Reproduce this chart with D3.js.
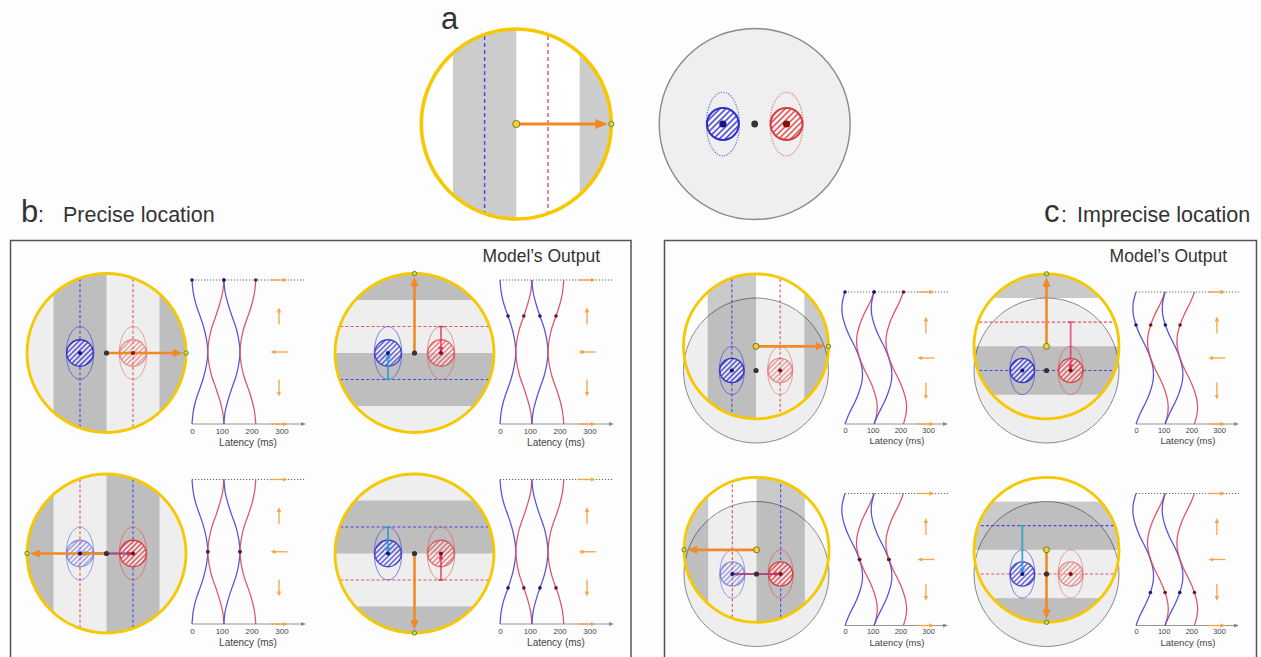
<!DOCTYPE html>
<html>
<head>
<meta charset="utf-8">
<script src="https://cdn.jsdelivr.net/npm/d3@7"></script>
<style>
  html, body { margin: 0; padding: 0; background: #fdfdfd; }
  svg { display: block; font-family: "Liberation Sans", Arial, sans-serif; }
</style>
</head>
<body>
<script>
// ---------------------------------------------------------------------------
// Data
// ---------------------------------------------------------------------------
// Motion direction (deg) sampled down the vertical axis of every latency plot
const directions = [0, 30, 60, 90, 120, 150, 180, 210, 240, 270, 300, 330, 360];
const latencyTicks = [0, 100, 200, 300];
// Motion direction glyphs drawn beside each latency plot
const arrowDirections = [0, 90, 180, 270, 360];
// Sub-panels in order: top-left, top-right, bottom-left, bottom-right
const panelMotion = [0, 90, 180, 270];
const panelMarked = [0, 90, 180, 270];

// Precise location: latency (ms) of successive bar edges for each neuron
const preciseBlue1 = [0, 4, 13, 27, 40, 49, 53, 49, 40, 27, 13, 4, 0];
const preciseRed1  = [107, 103, 93, 80, 66, 57, 53, 57, 66, 80, 93, 103, 107];
const preciseBlue2 = [107, 111, 121, 134, 148, 157, 161, 157, 148, 134, 121, 111, 107];
const preciseRed2  = [214, 210, 201, 188, 174, 165, 161, 165, 174, 188, 201, 210, 214];

// Imprecise location: latency (ms) of successive bar edges for each neuron
const impreciseBlue1 = [0, -10, -10, 0, 16, 36, 52, 62, 62, 52, 36, 16, 0];
const impreciseRed1  = [105, 89, 69, 53, 43, 43, 53, 69, 89, 105, 115, 115, 105];
const impreciseBlue2 = [105, 96, 96, 106, 122, 142, 158, 168, 168, 158, 142, 122, 105];
const impreciseRed2  = [211, 195, 175, 159, 149, 149, 159, 175, 195, 211, 221, 221, 211];

// ---------------------------------------------------------------------------
// Styling
// ---------------------------------------------------------------------------
const YELLOW = "#f5c800";
const ORANGE = "#f18a26";
const ORANGE_LIGHT = "#f5a548";
const BLUE = "#2e2ec8";
const RED = "#d83a3e";
const BLUE_CURVE = "#4a4ad6";
const RED_CURVE = "#dc4b5e";
const CYAN = "#2f9ad4";
const LINK_RED = "#e0245a";

const W = 1261, H = 657;
const svg = d3.select("body").append("svg").attr("width", W).attr("height", H);
svg.append("rect").attr("width", W).attr("height", H).attr("fill", "#fdfdfd");
const defs = svg.append("defs");
let clipCount = 0;

function hatch(id, color, size, bg) {
  const p = defs.append("pattern").attr("id", id)
    .attr("patternUnits", "userSpaceOnUse")
    .attr("width", size).attr("height", size)
    .attr("patternTransform", "rotate(45)");
  p.append("rect").attr("width", size).attr("height", size)
    .attr("fill", "#fff").attr("fill-opacity", bg);
  p.append("line").attr("x1", size / 2).attr("x2", size / 2)
    .attr("y1", 0).attr("y2", size)
    .attr("stroke", color).attr("stroke-width", size * 0.36);
}
hatch("hatchBlueL", BLUE, 4.2, 1);
hatch("hatchRedL", RED, 4.2, 1);
hatch("hatchBlue", BLUE, 3.6, 0.7);
hatch("hatchRed", RED, 3.6, 0.7);

function marker(id, color, w, h) {
  defs.append("marker").attr("id", id)
    .attr("viewBox", `0 0 ${w} ${h}`)
    .attr("refX", 1).attr("refY", h / 2)
    .attr("markerWidth", w).attr("markerHeight", h)
    .attr("markerUnits", "userSpaceOnUse")
    .attr("orient", "auto")
    .append("path").attr("d", `M0,0L${w},${h / 2}L0,${h}Z`).attr("fill", color);
}
marker("headOrangeL", ORANGE, 13, 10);
marker("headOrange", ORANGE, 10, 8);
marker("headSmall", ORANGE_LIGHT, 5, 4.5);
marker("headAxis", "#888", 5, 4);

// Line ending in an arrowhead whose tip sits at (x2, y2)
function arrow(g, x1, y1, x2, y2, color, width, head, headLen) {
  const len = Math.hypot(x2 - x1, y2 - y1);
  if (len < 1) return;
  const ux = (x2 - x1) / len, uy = (y2 - y1) / len;
  g.append("line")
    .attr("x1", x1).attr("y1", y1)
    .attr("x2", x2 - ux * (headLen - 1)).attr("y2", y2 - uy * (headLen - 1))
    .attr("stroke", color).attr("stroke-width", width)
    .attr("marker-end", `url(#${head})`);
}

// ---------------------------------------------------------------------------
// Drawing helpers
// ---------------------------------------------------------------------------
// Drifting grating seen through a circular aperture; dark bar trails the centre
function grating(g, c, r, motion, dashStyle) {
  const h = 2 * r / 3, d = r / 3;
  const id = "ap" + (clipCount++);
  defs.append("clipPath").attr("id", id)
    .append("circle").attr("cx", c[0]).attr("cy", c[1]).attr("r", r);
  const inner = g.append("g").attr("clip-path", `url(#${id})`)
    .append("g").attr("transform", `translate(${c[0]},${c[1]}) rotate(${-motion})`);
  inner.selectAll("rect").data(d3.range(-2, 3)).join("rect")
    .attr("x", k => 2 * h * k - h).attr("y", -r - 2)
    .attr("width", h).attr("height", 2 * r + 4)
    .attr("fill", "#000").attr("fill-opacity", 0.2);
  inner.selectAll("line").data([[-d, "#4646e6"], [d, "#e4545c"]]).join("line")
    .attr("x1", e => e[0]).attr("x2", e => e[0])
    .attr("y1", -r).attr("y2", r)
    .attr("stroke", e => e[1])
    .attr("stroke-width", dashStyle.width)
    .attr("stroke-dasharray", dashStyle.dash);
}

// Two neurons with their receptive-field ellipses, placed left/right of centre
function neurons(g, rf, r, opt) {
  const d = r / 3, rn = r / 6;
  const cells = [
    { x: rf[0] - d, fill: opt.large ? "url(#hatchBlueL)" : "url(#hatchBlue)", col: BLUE, ell: "#4a4ad8", a: opt.alpha[0] },
    { x: rf[0] + d, fill: opt.large ? "url(#hatchRedL)" : "url(#hatchRed)", col: RED, ell: "#e05a5a", a: opt.alpha[1] }
  ];
  cells.forEach(c => {
    const cg = g.append("g");
    cg.append("ellipse").attr("cx", c.x).attr("cy", rf[1])
      .attr("rx", rn * 1.04).attr("ry", rn * 2)
      .attr("fill", "none").attr("stroke", c.ell)
      .attr("stroke-width", opt.large ? 1.1 : 0.9)
      .attr("stroke-dasharray", opt.large ? "1.2,1.4" : null)
      .attr("opacity", opt.large ? 0.9 : 0.35 + 0.45 * c.a);
    cg.append("circle").attr("cx", c.x).attr("cy", rf[1]).attr("r", rn)
      .attr("fill", c.fill).attr("stroke", c.col)
      .attr("stroke-width", opt.large ? 2 : 1.3)
      .attr("opacity", c.a);
  });
}

function neuronDots(g, rf, r, large) {
  const d = r / 3;
  g.append("circle").attr("cx", rf[0] - d).attr("cy", rf[1]).attr("r", large ? 3.6 : 2.1).attr("fill", "#14147a");
  g.append("circle").attr("cx", rf[0] + d).attr("cy", rf[1]).attr("r", large ? 3.6 : 2.1).attr("fill", "#8a0d0d");
  g.append("circle").attr("cx", rf[0]).attr("cy", rf[1]).attr("r", large ? 3.4 : 2.6).attr("fill", "#333");
}

// Distance from each neuron to the middle of the bar it responds to
function links(g, rf, yc, r, motion) {
  const d = r / 3;
  const rad = motion * Math.PI / 180, ux = Math.cos(rad), uy = -Math.sin(rad);
  [[rf[0] - d, -d, CYAN], [rf[0] + d, d, LINK_RED]].forEach(([nx, sLine, col], i) => {
    const sN = (nx - yc[0]) * ux + (rf[1] - yc[1]) * uy;
    const k = sLine - sN;
    if (Math.abs(k) < 1) return;
    const sx = nx + k * ux, sy = rf[1] + k * uy;
    g.append("line").attr("x1", sx).attr("y1", sy).attr("x2", nx).attr("y2", rf[1])
      .attr("stroke", col).attr("stroke-width", 1.8)
      .attr("stroke-opacity", i === 1 ? 0.7 : 0.9);
    const len = Math.abs(k), vx = (nx - sx) / len, vy = (rf[1] - sy) / len;
    g.append("path")
      .attr("d", `M${nx},${rf[1]}L${nx - vx * 6 - vy * 2.6},${rf[1] - vy * 6 + vx * 2.6}L${nx - vx * 6 + vy * 2.6},${rf[1] - vy * 6 - vx * 2.6}Z`)
      .attr("fill", col).attr("opacity", 0.85);
    g.append("line").attr("x1", sx - vy * 2.5).attr("y1", sy + vx * 2.5)
      .attr("x2", sx + vy * 2.5).attr("y2", sy - vx * 2.5)
      .attr("stroke", col).attr("stroke-width", 1.2);
  });
}

function motionArrow(g, c, r, motion, large) {
  const rad = motion * Math.PI / 180, ux = Math.cos(rad), uy = -Math.sin(rad);
  const ex = c[0] + ux * r, ey = c[1] + uy * r;
  arrow(g, c[0], c[1], ex - ux * 3, ey - uy * 3, ORANGE, large ? 3.2 : 2.6,
    large ? "headOrangeL" : "headOrange", large ? 13 : 10);
  return [ex, ey];
}

function endDots(g, c, e, large, showStart) {
  if (showStart) {
    g.append("circle").attr("cx", c[0]).attr("cy", c[1]).attr("r", large ? 3.6 : 3)
      .attr("fill", "#eed23a").attr("stroke", "#7a6a10").attr("stroke-width", 0.9);
  }
  g.append("circle").attr("cx", e[0]).attr("cy", e[1]).attr("r", large ? 2.6 : 2.2)
    .attr("fill", "#c6e04a").attr("stroke", "#5f6d18").attr("stroke-width", 0.8);
}

// One stimulus diagram: RF disc, aperture grating, neurons, motion vector
function scene(rf, yc, r, motion, alpha) {
  const g = svg.append("g");
  g.append("circle").attr("cx", rf[0]).attr("cy", rf[1]).attr("r", r)
    .attr("fill", "#eeeeee").attr("stroke", "#8a8a8a").attr("stroke-width", 1);
  grating(g, yc, r, motion, { width: 1.1, dash: "3,2.2" });
  neurons(g, rf, r, { large: false, alpha });
  links(g, rf, yc, r, motion);
  const e = motionArrow(g, yc, r, motion, false);
  g.append("circle").attr("cx", yc[0]).attr("cy", yc[1]).attr("r", r)
    .attr("fill", "none").attr("stroke", YELLOW).attr("stroke-width", 2.8);
  const offset = Math.hypot(rf[0] - yc[0], rf[1] - yc[1]) > 1;
  endDots(g, yc, e, false, offset);
  neuronDots(g, rf, r, false);
}

// Latency of each bar edge against motion direction
function latencyPlot(p, curves, mark) {
  const x = d3.scaleLinear().domain([0, 300]).range([p.x0, p.x0 + 3 * p.px100]);
  const y = d3.scaleLinear().domain([0, 360]).range([p.top, p.bottom]);
  const g = svg.append("g");
  const xEnd = p.x0 + p.end;

  g.append("line").attr("x1", p.x0).attr("x2", xEnd).attr("y1", p.top).attr("y2", p.top)
    .attr("stroke", "#555").attr("stroke-width", 0.9).attr("stroke-dasharray", "1.2,1.8");
  g.append("line").attr("x1", p.x0).attr("x2", xEnd - 4).attr("y1", p.bottom).attr("y2", p.bottom)
    .attr("stroke", "#8a8a8a").attr("stroke-width", 0.9).attr("marker-end", "url(#headAxis)");

  const ax = g.append("g").attr("transform", `translate(0,${p.bottom})`)
    .call(d3.axisBottom(x).tickValues(latencyTicks).tickSize(0).tickPadding(p.font - 4));
  ax.select(".domain").remove();
  ax.selectAll("text").attr("font-size", p.font).attr("fill", "#444")
    .attr("font-family", "'Liberation Sans', Arial, sans-serif");
  g.append("text").attr("x", p.x0 + p.labelDx).attr("y", p.bottom + p.labelDy)
    .attr("text-anchor", "middle").attr("font-size", p.labelSize).attr("fill", "#444")
    .text("Latency (ms)");

  const line = d3.line()
    .x(d => x(d[1])).y(d => y(d[0]))
    .curve(d3.curveNatural);
  curves.forEach(c => {
    g.append("path").datum(directions.map((dir, i) => [dir, c.values[i]]))
      .attr("d", line).attr("fill", "none")
      .attr("stroke", c.color).attr("stroke-width", 1.25).attr("stroke-opacity", 0.95);
  });

  // direction glyphs
  arrowDirections.forEach(dir => {
    const rad = dir * Math.PI / 180, ux = Math.cos(rad), uy = -Math.sin(rad);
    const cx = x(292), cy = y(dir), half = 8.5;
    arrow(g, cx - ux * half, cy - uy * half, cx + ux * half, cy + uy * half,
      ORANGE_LIGHT, 1.3, "headSmall", 5);
  });

  // latencies at the direction shown in the stimulus diagram
  const idx = directions.indexOf(mark);
  curves.forEach(c => {
    g.append("circle").attr("cx", x(c.values[idx])).attr("cy", y(mark)).attr("r", 1.8)
      .attr("fill", c.dot);
  });
}

// ---------------------------------------------------------------------------
// Panel a
// ---------------------------------------------------------------------------
svg.append("text").attr("x", 441).attr("y", 29).attr("font-size", 31).attr("fill", "#333").text("a");
{
  const g = svg.append("g");
  const c = [516.3, 124], r = 95;
  g.append("circle").attr("cx", c[0]).attr("cy", c[1]).attr("r", r).attr("fill", "#fff");
  grating(g, c, r, panelMotion[0], { width: 1.4, dash: "4,3" });
  const e = motionArrow(g, c, r, panelMotion[0], true);
  g.append("circle").attr("cx", c[0]).attr("cy", c[1]).attr("r", r)
    .attr("fill", "none").attr("stroke", YELLOW).attr("stroke-width", 3.6);
  endDots(g, c, e, true, true);

  const rf = [754.7, 124], rr = 95.5;
  g.append("circle").attr("cx", rf[0]).attr("cy", rf[1]).attr("r", rr)
    .attr("fill", "#efefef").attr("stroke", "#8a8a8a").attr("stroke-width", 1.4);
  neurons(g, rf, rr, { large: true, alpha: [1, 1] });
  neuronDots(g, rf, rr, true);
}

// ---------------------------------------------------------------------------
// Panel b: precise location
// ---------------------------------------------------------------------------
svg.append("text").attr("x", 21).attr("y", 222).attr("font-size", 31).attr("fill", "#333").text("b");
svg.append("text").attr("x", 38).attr("y", 222).attr("font-size", 21.5).attr("fill", "#333").text(":");
svg.append("text").attr("x", 63).attr("y", 222).attr("font-size", 21.5).attr("fill", "#333").text("Precise location");
svg.append("rect").attr("x", 10.5).attr("y", 240.5).attr("width", 620.5).attr("height", 440)
  .attr("fill", "none").attr("stroke", "#555").attr("stroke-width", 1.5);
svg.append("text").attr("x", 600).attr("y", 262).attr("text-anchor", "end")
  .attr("font-size", 17.5).attr("fill", "#333").text("Model\u2019s Output");

const preciseCurves = [
  { values: preciseBlue1, color: BLUE_CURVE, dot: "#1d1d70" },
  { values: preciseRed1, color: RED_CURVE, dot: "#6e1630" },
  { values: preciseBlue2, color: BLUE_CURVE, dot: "#1d1d70" },
  { values: preciseRed2, color: RED_CURVE, dot: "#6e1630" }
];
const preciseLayout = [
  { rf: [106.5, 353], x0: 192, top: 280, bottom: 424, alpha: [1, 0.55] },
  { rf: [414.5, 353], x0: 500, top: 280, bottom: 424, alpha: [0.9, 0.75] },
  { rf: [106.5, 553.5], x0: 192, top: 479.5, bottom: 624, alpha: [0.5, 1] },
  { rf: [414.5, 553.5], x0: 500, top: 479.5, bottom: 624, alpha: [0.9, 0.75] }
];
preciseLayout.forEach((L, i) => {
  scene(L.rf, L.rf, 79.5, panelMotion[i], L.alpha);
  latencyPlot({ x0: L.x0, top: L.top, bottom: L.bottom, px100: 29.8, end: 114,
    font: 8, labelDx: 56, labelDy: 22, labelSize: 10 }, preciseCurves, panelMarked[i]);
});

// ---------------------------------------------------------------------------
// Panel c: imprecise location
// ---------------------------------------------------------------------------
svg.append("text").attr("x", 1044).attr("y", 222).attr("font-size", 31).attr("fill", "#333").text("c");
svg.append("text").attr("x", 1061).attr("y", 222).attr("font-size", 21.5).attr("fill", "#333").text(":");
svg.append("text").attr("x", 1077).attr("y", 222).attr("font-size", 21.5).attr("fill", "#333").text("Imprecise location");
svg.append("rect").attr("x", 664.5).attr("y", 240.5).attr("width", 592).attr("height", 440)
  .attr("fill", "none").attr("stroke", "#555").attr("stroke-width", 1.5);
svg.append("text").attr("x", 1227).attr("y", 262).attr("text-anchor", "end")
  .attr("font-size", 17.5).attr("fill", "#333").text("Model\u2019s Output");

const impreciseCurves = [
  { values: impreciseBlue1, color: BLUE_CURVE, dot: "#1d1d70" },
  { values: impreciseRed1, color: RED_CURVE, dot: "#6e1630" },
  { values: impreciseBlue2, color: BLUE_CURVE, dot: "#1d1d70" },
  { values: impreciseRed2, color: RED_CURVE, dot: "#6e1630" }
];
const impreciseLayout = [
  { rf: [756, 370.5], x0: 845, top: 292, bottom: 424, alpha: [1, 0.55] },
  { rf: [1046.5, 370.5], x0: 1136, top: 292, bottom: 424, alpha: [1, 0.9] },
  { rf: [756.5, 574], x0: 845, top: 493.5, bottom: 625.5, alpha: [0.5, 1] },
  { rf: [1046.5, 574], x0: 1136, top: 493.5, bottom: 625.5, alpha: [0.9, 0.55] }
];
impreciseLayout.forEach((L, i) => {
  const r = 72.5;
  scene(L.rf, [L.rf[0], L.rf[1] - r / 3], r, panelMotion[i], L.alpha);
  latencyPlot({ x0: L.x0, top: L.top, bottom: L.bottom, px100: 27.7, end: 103,
    font: 7.5, labelDx: 52, labelDy: 20, labelSize: 9.5 }, impreciseCurves, panelMarked[i]);
});
</script>
</body>
</html>
